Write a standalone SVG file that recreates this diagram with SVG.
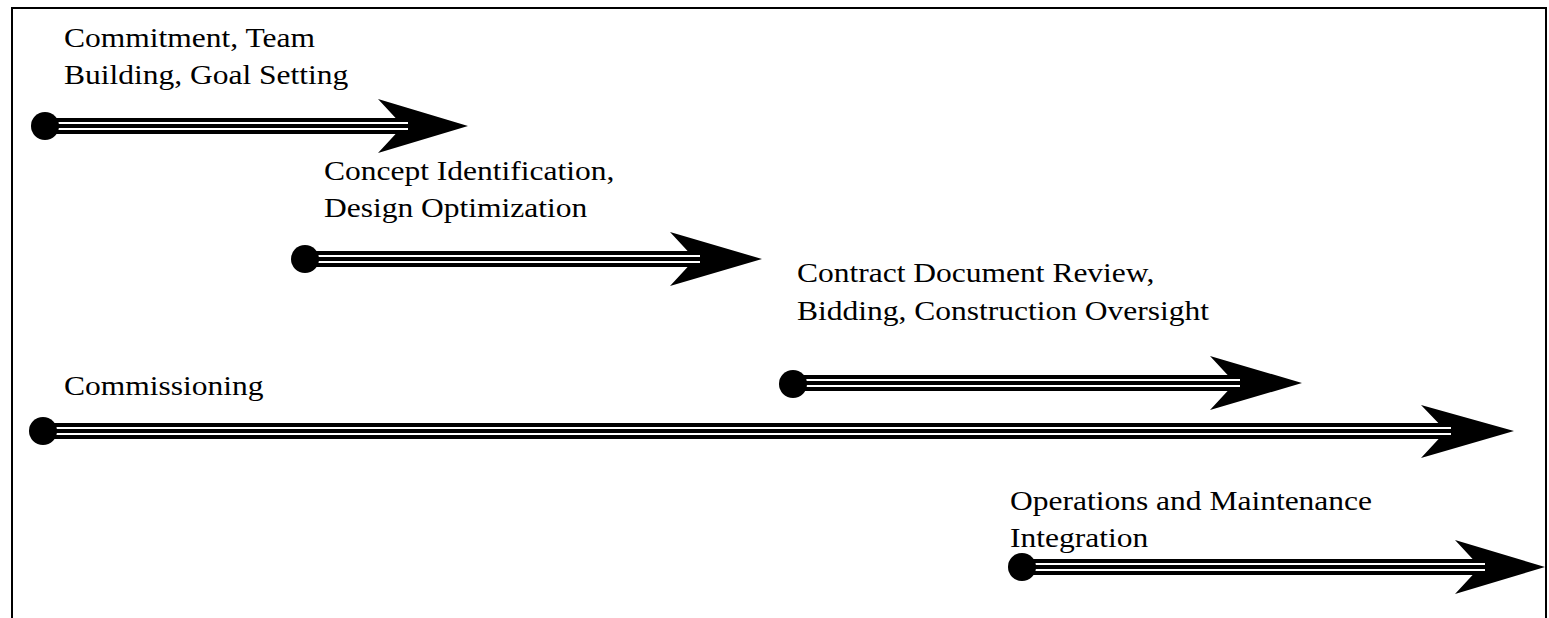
<svg xmlns="http://www.w3.org/2000/svg" width="1549" height="618" viewBox="0 0 1549 618">
<style>
.lbl{font-family:"Liberation Serif","Times New Roman",serif;font-size:27px;fill:#000}
.blk{fill:#000}
.wht{fill:#fff}
.frame{fill:none;stroke:#000;stroke-width:2}
</style>
<rect x="0" y="0" width="1549" height="618" fill="#fff"/>
<path class="frame" d="M12,630 V8 H1546 V630"/>
<g id="connectors">
  <g id="arrow1">
    <polygon class="blk" points="378,99 468,126 378,153 403,126"/>
    <rect class="blk" x="45" y="118" width="363" height="16"/>
    <rect class="wht" x="58" y="122" width="350" height="2"/>
    <rect class="wht" x="58" y="128" width="350" height="2"/>
    <circle class="blk" cx="45" cy="126" r="14"/>
  </g>
  <g id="arrow2">
    <polygon class="blk" points="670,232 762,259 670,286 695,259"/>
    <rect class="blk" x="305" y="251" width="395" height="16"/>
    <rect class="wht" x="318" y="255" width="382" height="2"/>
    <rect class="wht" x="318" y="261" width="382" height="2"/>
    <circle class="blk" cx="305" cy="259" r="14"/>
  </g>
  <g id="arrow3">
    <polygon class="blk" points="1210,356 1302,383 1210,410 1235,383"/>
    <rect class="blk" x="793" y="375" width="447" height="16"/>
    <rect class="wht" x="806" y="379" width="434" height="2"/>
    <rect class="wht" x="806" y="385" width="434" height="2"/>
    <circle class="blk" cx="793" cy="384" r="14"/>
  </g>
  <g id="arrow4">
    <polygon class="blk" points="1421,405 1514,431 1421,458 1446,431"/>
    <rect class="blk" x="43" y="423" width="1408" height="16"/>
    <rect class="wht" x="56" y="427" width="1395" height="2"/>
    <rect class="wht" x="56" y="433" width="1395" height="2"/>
    <circle class="blk" cx="43" cy="431" r="14"/>
  </g>
  <g id="arrow5">
    <polygon class="blk" points="1455,540 1545,567 1455,594 1480,567"/>
    <rect class="blk" x="1022" y="559" width="463" height="16"/>
    <rect class="wht" x="1035" y="563" width="450" height="2"/>
    <rect class="wht" x="1035" y="569" width="450" height="2"/>
    <circle class="blk" cx="1022" cy="567" r="14"/>
  </g>
</g>
<g id="node1">
  <text class="lbl" transform="translate(64,47) scale(1.167,1)"><tspan x="0" y="0">Commitment, Team</tspan><tspan x="0" y="37">Building, Goal Setting</tspan></text>
</g>
<g id="node2">
  <text class="lbl" transform="translate(324,180) scale(1.167,1)"><tspan x="0" y="0">Concept Identification,</tspan><tspan x="0" y="37">Design Optimization</tspan></text>
</g>
<g id="node3">
  <text class="lbl" transform="translate(797,282) scale(1.167,1)"><tspan x="0" y="0">Contract Document Review,</tspan><tspan x="0" y="38">Bidding, Construction Oversight</tspan></text>
</g>
<g id="node4">
  <text class="lbl" transform="translate(64,395) scale(1.167,1)">Commissioning</text>
</g>
<g id="node5">
  <text class="lbl" transform="translate(1010,510) scale(1.167,1)"><tspan x="0" y="0">Operations and Maintenance</tspan><tspan x="0" y="37">Integration</tspan></text>
</g>
</svg>
